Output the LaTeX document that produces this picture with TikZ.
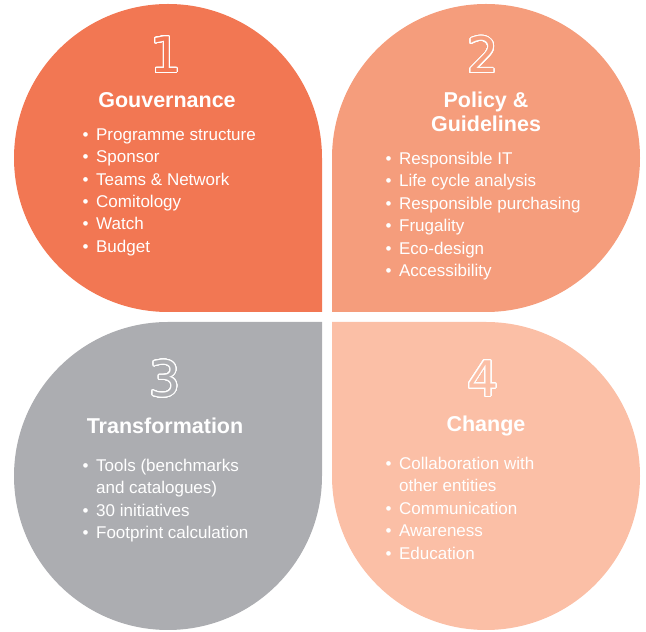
\documentclass[tikz,border=0pt]{standalone}
\usepackage{fontspec}
\setmainfont{Liberation Sans}
\newfontfamily\digitfont{DejaVu Sans}
\usepackage{xcolor}
\usepackage[copies]{contour}
\usepackage{tikz}
\usetikzlibrary{positioning}

\definecolor{govcol}{HTML}{F27753}
\definecolor{polcol}{HTML}{F59D7C}
\definecolor{tracol}{HTML}{ACADB1}
\definecolor{chgcol}{HTML}{FBBFA6}

\contourlength{0.8pt}
\contournumber{40}

\newcommand{\bul}[1]{\textbullet\hspace{7.5pt}#1}
\newcommand{\bulcont}[1]{\hphantom{\textbullet\hspace{7.5pt}}#1}

\begin{document}
\begin{tikzpicture}[
  x=1pt, y=1pt,
  numlabel/.style={font=\digitfont\fontsize{49}{49}\selectfont, inner sep=0pt},
  heading/.style={font=\bfseries\fontsize{21.5}{24}\selectfont, text=white,
    align=center, inner sep=0pt},
  itemlist/.style={font=\fontsize{17}{22.4}\selectfont, text=white,
    align=left, inner sep=0pt, anchor=north west},
]
\useasboundingbox (0,0) rectangle (646,632);

% ========= Quadrant shapes =========
\fill[govcol] (322,320) -- (168,320) arc[start angle=-90, end angle=-360, radius=154] -- cycle;
\fill[polcol] (332,320) -- (332,474) arc[start angle=180, end angle=-90, radius=154] -- cycle;
\fill[tracol] (322,310) -- (322,156) arc[start angle=0, end angle=-270, radius=154] -- cycle;
\fill[chgcol] (332,310) -- (486,310) arc[start angle=90, end angle=-180, radius=154] -- cycle;

% ========= Numbers =========
\node[numlabel, text=govcol] (gnum) at (166,577) {\contour{white}{1}};
\node[numlabel, text=polcol] (pnum) at (483,577) {\contour{white}{2}};
\node[numlabel, text=tracol] (tnum) at (165,253) {\contour{white}{3}};
\node[numlabel, text=chgcol] (cnum) at (483,253) {\contour{white}{4}};

% ========= Headings =========
\node[heading] (gov) at (167,532) {Gouvernance};
\node[heading] (pol) at (486,520) {Policy \&\\Guidelines};
\node[heading] (tra) at (165,206) {Transformation};
\node[heading] (chg) at (486,206) {Change};

% ========= Item lists =========
\node[itemlist] (govlist) at (82.5,503.5) {\bul{Programme structure}\\ \bul{Sponsor}\\
  \bul{Teams \& Network}\\ \bul{Comitology}\\ \bul{Watch}\\ \bul{Budget}};
\node[itemlist] (pollist) at (385.5,480) {\bul{Responsible IT}\\ \bul{Life cycle analysis}\\
  \bul{Responsible purchasing}\\ \bul{Frugality}\\ \bul{Eco-design}\\ \bul{Accessibility}};
\node[itemlist] (tralist) at (82.5,173) {\bul{Tools (benchmarks}\\ \bulcont{and catalogues)}\\
  \bul{30 initiatives}\\ \bul{Footprint calculation}};
\node[itemlist] (chglist) at (385.5,175) {\bul{Collaboration with}\\ \bulcont{other entities}\\
  \bul{Communication}\\ \bul{Awareness}\\ \bul{Education}};

\end{tikzpicture}
\end{document}
